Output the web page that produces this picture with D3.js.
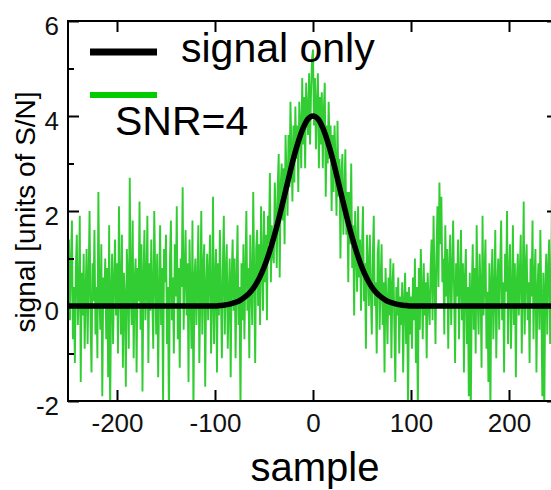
<!DOCTYPE html>
<html>
<head>
<meta charset="utf-8">
<script src="https://cdnjs.cloudflare.com/ajax/libs/d3/7.8.5/d3.min.js"></script>
<style>
  html, body { margin: 0; padding: 0; background: #fff; }
  svg { display: block; font-family: "Liberation Sans", Arial, sans-serif; }
</style>
</head>
<body>
<svg id="chart" width="551" height="490"></svg>
<script>
// noisy trace, one value per sample, first sample is -250
var firstSample = -250;
var noisy = [
  0.6, 1.4, -0.3, 0.9, 1.8, -0.7, 0.4, -1.2, 0.8, 1.5,
  -0.4, 0.2, 1.9, -1.6, 0.7, -0.2, 1.1, -0.9, 0.3, 1.2,
  -0.8, 0.5, 2.0, -0.3, -1.4, 0.9, 0.1, 1.6, -0.6, 0.4,
  -1.1, 2.4, 0.2, -0.5, 1.3, -1.9, 0.6, 0.0, 1.0, -0.7,
  0.8, -1.5, 1.7, -2.3, 0.3, 1.1, -0.8, 0.5, 1.4, -0.2,
  0.9, -1.0, 2.1, 0.4, -0.6, 1.5, -1.3, 0.7, 0.2, -1.7,
  1.2, 0.6, -0.9, 2.7, 0.3, -0.4, 1.8, -1.1, 0.5, 1.0,
  -1.4, 0.8, 0.1, 2.2, -0.5, 1.3, -1.8, 0.6, 1.6, -0.3,
  0.4, 1.9, -1.2, 0.9, -0.1, 1.4, 0.2, -0.9, 2.0, 0.7,
  -0.6, 1.1, -1.5, 0.3, 1.7, -0.4, 0.8, -2.0, 1.2, 0.5,
  1.5, -0.8, 0.4, -2.4, 0.9, 1.8, -0.3, 0.6, -1.0, 1.3,
  0.2, 2.1, -0.7, 0.8, -1.3, 1.0, 0.4, 2.5, -0.5, 0.7,
  1.6, -0.2, 0.9, -1.6, 1.4, 0.3, -0.9, 1.8, -2.3, 0.6,
  1.0, -0.4, 0.5, 1.7, -1.2, 0.2, 2.0, -0.6, 0.8, 1.3,
  -1.7, 0.4, 1.1, -0.3, 0.7, 1.5, -1.0, 0.1, 2.3, -0.8,
  0.5, 1.2, -1.4, 0.9, -0.2, 1.6, 0.3, -1.1, 0.8, 1.9,
  -0.6, 0.7, 1.3, -0.9, 0.2, 1.0, -1.5, 0.6, 1.4, -0.1,
  1.0, -1.1, 0.5, 1.7, -0.4, 0.4, -2.2, 0.9, -0.3, 1.3,
  -0.7, 0.7, 2.0, -0.1, 0.8, -1.1, 1.5, 0.4, -0.4, 2.4,
  0.7, -1.2, 1.2, 1.6, 0.0, 1.3, -0.4, 2.1, 0.9, -0.1,
  2.0, 0.5, 1.5, -0.3, 1.9, 1.3, 2.8, 0.5, 1.7, 1.1,
  0.9, 2.6, 1.9, 0.8, 2.5, 3.2, 0.6, 2.5, 3.0, 1.8,
  2.9, 1.3, 3.6, 2.7, 1.9, 3.6, 2.5, 4.3, 3.3, 2.2,
  3.8, 2.6, 4.2, 3.1, 3.8, 2.4, 4.3, 3.8, 2.9, 4.8,
  3.4, 4.4, 2.9, 4.7, 4.1, 3.6, 4.9, 3.4, 4.5, 5.2,
  5.4, 3.8, 4.8, 3.3, 4.3, 4.9, 2.9, 4.4, 3.4, 4.5,
  2.9, 4.1, 4.7, 2.3, 3.8, 3.0, 4.3, 3.1, 3.8, 2.0,
  3.6, 2.4, 3.8, 3.0, 1.9, 3.9, 2.3, 3.1, 1.0, 2.8,
  3.2, 1.5, 2.3, 3.3, 1.5, 2.4, 0.5, 2.4, 1.3, 3.0,
  0.8, 1.7, -0.2, 2.0, 1.3, 0.3, 2.1, 0.6, 1.4, -0.1,
  1.2, 2.1, 0.1, 0.9, -0.9, 1.5, 0.9, 0.0, 1.5, 0.3,
  -0.6, 1.0, 1.9, 0.0, 0.5, -1.0, 1.1, 1.4, -0.5, 0.5,
  1.3, -0.4, 0.5, -1.4, 0.8, 0.1, -0.8, 0.6, -0.2, 1.0,
  -1.1, 0.4, 0.9, -0.4, -1.6, 0.4, -0.2, 0.6, -1.0, 0.2,
  -0.4, 0.5, -1.4, 0.1, 0.7, -0.8, 0.3, -2.2, 0.4, -0.6,
  0.2, -0.9, 0.6, -0.3, 1.0, -1.2, 0.4, -2.3, 0.8, -0.5,
  1.2, 0.3, -0.7, 0.9, -0.2, 0.5, -1.1, 0.7, 0.1, -0.4,
  0.8, 1.4, -0.3, 1.9, 0.6, -0.8, 1.1, 2.1, 0.4, 2.6,
  1.3, 2.3, 0.5, 1.0, -0.6, 1.7, 0.2, 1.2, -0.9, 0.8,
  1.5, -0.4, 0.7, 1.8, 0.3, -1.2, 0.9, 0.2, 1.4, -0.7,
  0.5, 1.6, -0.3, 0.9, -1.4, 0.6, 1.2, -0.8, 0.4, -1.9,
  0.7, -2.3, 0.3, 1.3, -0.5, 0.8, -1.0, 1.7, 0.2, -0.6,
  1.1, 0.4, -1.3, 1.9, -0.2, 0.6, 1.4, -0.9, 0.3, -1.6,
  0.9, -2.2, 0.5, 1.2, -0.7, 0.2, 1.6, -1.1, 0.4, 1.0,
  -0.5, 0.8, 1.8, -0.3, 0.5, -1.4, 1.1, 0.3, 2.0, -0.8,
  0.6, 1.3, -0.9, 0.2, 1.7, -0.4, 0.9, -1.5, 0.5, 1.1,
  -0.2, 0.7, 1.5, -1.0, 0.4, 2.2, -0.6, 0.8, 1.3, -0.3,
  0.5, -1.2, 1.0, 0.2, 1.8, -0.7, 0.6, 1.2, -1.4, 0.3,
  0.9, -0.5, 1.6, 0.1, -1.9, 0.7, -2.3, 0.4, 1.1, -0.6,
  0.8, 1.4, -0.8, 0.3, 2.9, -0.4, 0.7, -1.7, 1.9, -1.0,
  0.5
];

// clean pulse (signal only), read every 5 samples
var signalX = [-250, -100, -95, -90, -85, -80, -75, -70, -65, -60, -55, -50, -45, -40, -35, -30, -25, -20, -15, -10, -5,
               0, 5, 10, 15, 20, 25, 30, 35, 40, 45, 50, 55, 60, 65, 70, 75, 80, 85, 90, 95, 100, 250];
var signalY = [0, 0, 0.01, 0.02, 0.04, 0.07, 0.11, 0.18, 0.27, 0.40, 0.58, 0.81, 1.10, 1.44, 1.83, 2.25, 2.68, 3.10, 3.46, 3.75, 3.94,
               4.00, 3.94, 3.75, 3.46, 3.10, 2.68, 2.25, 1.83, 1.44, 1.10, 0.81, 0.58, 0.40, 0.27, 0.18, 0.11, 0.07, 0.04, 0.02, 0.01, 0, 0];

var xTicks = [-200, -100, 0, 100, 200];
var yTicks = [-2, 0, 2, 4, 6];
var yMinor = [-1, 1, 3, 5];
var legendLabels = ["signal only", "SNR=4"];

(function () {
    var green = "#32cd32";
    var svg = d3.select("#chart");

    // plot box (right edge runs past the window, as in the picture)
    var x0 = 68, x1 = 558, y0 = 21, y1 = 401;

    var x = d3.scaleLinear().domain([-250, 250]).range([x0, x1]);
    var y = d3.scaleLinear().domain([-2, 6]).range([y1, y0]);

    // plain hyphen for negatives, like the original
    var fmt = function (d) { return String(d); };

    svg.append("clipPath").attr("id", "clip")
        .append("rect")
        .attr("x", x0).attr("y", y0)
        .attr("width", x1 - x0).attr("height", y1 - y0);

    var plot = svg.append("g").attr("clip-path", "url(#clip)");

    // noisy trace
    var noisyLine = d3.line()
        .x(function (d, i) { return x(firstSample + i); })
        .y(function (d) { return y(d); });

    plot.append("path")
        .datum(noisy)
        .attr("d", noisyLine)
        .attr("fill", "none")
        .attr("stroke", green)
        .attr("stroke-width", 1.9);

    // signal only
    var sigLine = d3.line()
        .x(function (d, i) { return x(signalX[i]); })
        .y(function (d) { return y(d); })
        .curve(d3.curveMonotoneX);

    plot.append("path")
        .datum(signalY)
        .attr("d", sigLine)
        .attr("fill", "none")
        .attr("stroke", "#000")
        .attr("stroke-width", 5.5)
        .attr("stroke-linejoin", "round");

    // axes: ticks point inward on all four sides
    var axB = d3.axisBottom(x).tickValues(xTicks).tickSizeInner(-11).tickSizeOuter(0).tickPadding(13).tickFormat(fmt);
    var axT = d3.axisTop(x).tickValues(xTicks).tickSizeInner(-11).tickSizeOuter(0).tickFormat("");
    var axL = d3.axisLeft(y).tickValues(yTicks).tickSizeInner(-11).tickSizeOuter(0).tickPadding(9).tickFormat(fmt);
    var axR = d3.axisRight(y).tickValues(yTicks).tickSizeInner(-11).tickSizeOuter(0).tickFormat("");
    var axLm = d3.axisLeft(y).tickValues(yMinor).tickSizeInner(-6).tickSizeOuter(0).tickFormat("");
    var axRm = d3.axisRight(y).tickValues(yMinor).tickSizeInner(-6).tickSizeOuter(0).tickFormat("");

    function styleAxis(g) {
        g.attr("font-size", 26).attr("font-family", "'Liberation Sans', Arial, sans-serif");
        g.selectAll(".domain").remove();
        g.selectAll("line").attr("stroke", "#000").attr("stroke-width", 2);
        g.selectAll("text").attr("fill", "#111");
    }

    svg.append("g").attr("transform", "translate(0," + y1 + ")").call(axB).call(styleAxis);
    svg.append("g").attr("transform", "translate(0," + y0 + ")").call(axT).call(styleAxis);
    svg.append("g").attr("transform", "translate(" + x0 + ",0)").call(axL).call(styleAxis)
        .selectAll("text").attr("dy", "0.5em");
    svg.append("g").attr("transform", "translate(" + x1 + ",0)").call(axR).call(styleAxis);
    svg.append("g").attr("transform", "translate(" + x0 + ",0)").call(axLm).call(styleAxis);
    svg.append("g").attr("transform", "translate(" + x1 + ",0)").call(axRm).call(styleAxis);

    // frame
    svg.append("rect")
        .attr("x", x0).attr("y", y0)
        .attr("width", x1 - x0).attr("height", y1 - y0)
        .attr("fill", "none")
        .attr("stroke", "#000")
        .attr("stroke-width", 2);

    // axis titles
    svg.append("text")
        .attr("x", 315).attr("y", 481)
        .attr("text-anchor", "middle")
        .style("font-size", "40px")
        .text("sample");

    svg.append("text")
        .attr("transform", "translate(35,212) rotate(-90)")
        .attr("text-anchor", "middle")
        .style("font-size", "28px")
        .text("signal [units of S/N]");

    // legend
    var legend = svg.append("g");
    legend.append("line")
        .attr("x1", 90).attr("x2", 157).attr("y1", 52).attr("y2", 52)
        .attr("stroke", "#000").attr("stroke-width", 7);
    legend.append("line")
        .attr("x1", 90).attr("x2", 157).attr("y1", 95).attr("y2", 95)
        .attr("stroke", "#00cc00").attr("stroke-width", 6);
    legend.append("text")
        .attr("x", 181).attr("y", 62)
        .style("font-size", "41px")
        .text(legendLabels[0]);
    legend.append("text")
        .attr("x", 115).attr("y", 135)
        .style("font-size", "41px")
        .text(legendLabels[1]);
})();
</script>
</body>
</html>
